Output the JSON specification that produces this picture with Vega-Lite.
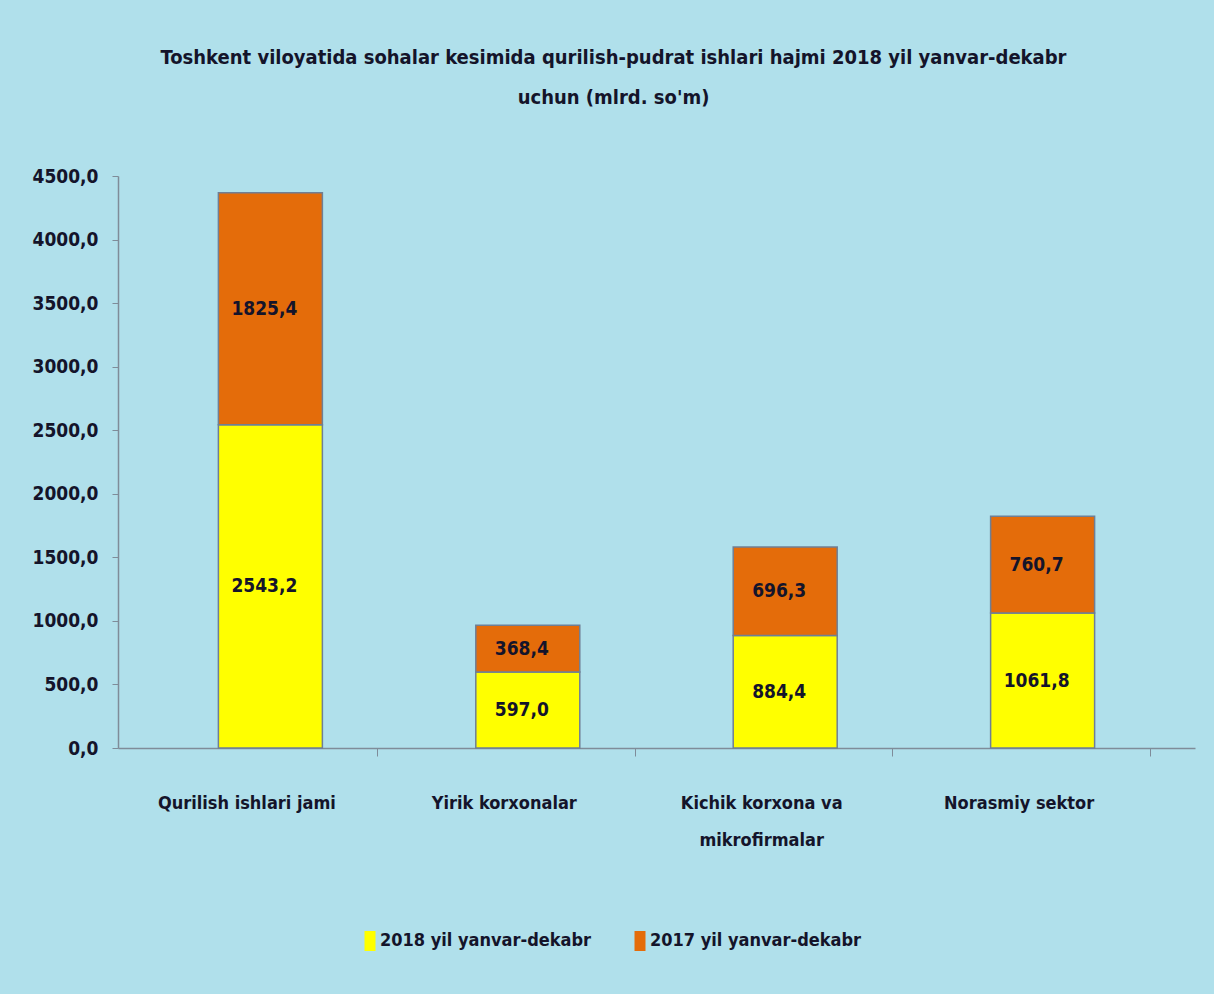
{
  "$schema": "https://vega.github.io/schema/vega-lite/v6.json",
  "width": 1077,
  "height": 572,
  "autosize": {"type": "none"},
  "padding": {"left": 118, "top": 176, "right": 19, "bottom": 246},
  "background": "#b0e0eb",
  "title": {
    "text": ["Toshkent viloyatida sohalar kesimida qurilish-pudrat ishlari hajmi 2018 yil yanvar-dekabr", "uchun (mlrd. so'm)"],
    "anchor": "middle",
    "frame": "bounds",
    "font": "DejaVu Sans Condensed",
    "fontSize": 20,
    "fontWeight": "bold",
    "color": "#14142a",
    "lineHeight": 40,
    "offset": 59
  },
  "data": {
    "values": [
      {"category": "Qurilish ishlari jami", "series": "2018 yil yanvar-dekabr", "ord": 1, "value": 2543.2},
      {"category": "Qurilish ishlari jami", "series": "2017 yil yanvar-dekabr", "ord": 2, "value": 1825.4},
      {"category": "Yirik korxonalar", "series": "2018 yil yanvar-dekabr", "ord": 1, "value": 597.0},
      {"category": "Yirik korxonalar", "series": "2017 yil yanvar-dekabr", "ord": 2, "value": 368.4},
      {"category": "Kichik korxona va mikrofirmalar", "series": "2018 yil yanvar-dekabr", "ord": 1, "value": 884.4},
      {"category": "Kichik korxona va mikrofirmalar", "series": "2017 yil yanvar-dekabr", "ord": 2, "value": 696.3},
      {"category": "Norasmiy sektor", "series": "2018 yil yanvar-dekabr", "ord": 1, "value": 1061.8},
      {"category": "Norasmiy sektor", "series": "2017 yil yanvar-dekabr", "ord": 2, "value": 760.7}
    ]
  },
  "encoding": {
    "x": {
      "field": "category",
      "type": "nominal",
      "sort": null,
      "scale": {"paddingInner": 0.596, "paddingOuter": 0.39},
      "axis": {
        "title": null,
        "labelAngle": 0,
        "domainColor": "#7f8c99",
        "domainWidth": 1.5,
        "tickColor": "#7f8c99",
        "tickSize": 8,
        "tickOffset": 107,
        "labelOffset": -131,
        "labelPadding": 38,
        "labelLimit": 0,
        "labelFont": "DejaVu Sans Condensed",
        "labelFontSize": 18,
        "labelFontWeight": "bold",
        "labelColor": "#14142a",
        "labelLineHeight": 37,
        "labelExpr": "datum.label == 'Kichik korxona va mikrofirmalar' ? ['Kichik korxona va', 'mikrofirmalar'] : datum.label"
      }
    }
  },
  "layer": [
    {
      "mark": {"type": "bar", "stroke": "#6f7f95", "strokeWidth": 1.5},
      "encoding": {
        "y": {
          "field": "value",
          "type": "quantitative",
          "stack": "zero",
          "scale": {"domain": [0, 4500], "nice": false},
          "axis": {
            "title": null,
            "grid": false,
            "values": [0, 500, 1000, 1500, 2000, 2500, 3000, 3500, 4000, 4500],
            "format": ".1f",
            "domainColor": "#7f8c99",
            "domainWidth": 1.5,
            "tickColor": "#7f8c99",
            "tickSize": 6,
            "labelPadding": 14,
            "labelFont": "DejaVu Sans Condensed",
            "labelFontSize": 19,
            "labelFontWeight": "bold",
            "labelColor": "#14142a"
          }
        },
        "color": {
          "field": "series",
          "type": "nominal",
          "scale": {"domain": ["2018 yil yanvar-dekabr", "2017 yil yanvar-dekabr"], "range": ["#ffff00", "#e46c0a"]},
          "legend": {
            "title": null,
            "orient": "none",
            "direction": "horizontal",
            "legendX": 242,
            "legendY": 755,
            "columnPadding": 38,
            "symbolType": "M-0.55,-1H0.55V1H-0.55Z",
            "symbolSize": 400,
            "symbolStrokeWidth": 0,
            "labelOffset": 0,
            "labelLimit": 0,
            "labelFont": "DejaVu Sans Condensed",
            "labelFontSize": 18,
            "labelFontWeight": "bold",
            "labelColor": "#14142a"
          }
        },
        "order": {"field": "ord", "type": "quantitative"}
      }
    },
    {
      "mark": {"type": "text", "font": "DejaVu Sans Condensed", "fontSize": 19, "fontWeight": "bold", "color": "#14142a", "baseline": "middle", "dx": -6},
      "encoding": {
        "y": {"field": "value", "type": "quantitative", "stack": "zero", "bandPosition": 0.5},
        "detail": {"field": "series", "type": "nominal"},
        "order": {"field": "ord", "type": "quantitative"},
        "text": {"field": "value", "type": "quantitative", "format": ".1f"}
      }
    }
  ],
  "config": {
    "view": {"stroke": null},
    "locale": {"number": {"decimal": ",", "thousands": "", "grouping": [3], "currency": ["", ""]}}
  }
}
